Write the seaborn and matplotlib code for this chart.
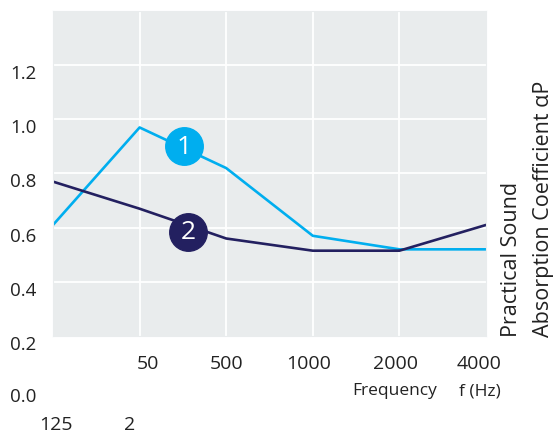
import pandas as pd
import seaborn as sns
import matplotlib.pyplot as plt
from matplotlib.transforms import ScaledTranslation

# Datos
frecuencias = ["125", "250", "500", "1000", "2000", "4000"]
serie_1 = [0.61, 0.97, 0.82, 0.57, 0.52, 0.52]
serie_2 = [0.77, 0.67, 0.56, 0.515, 0.515, 0.61]
etiquetas_x = ["", "50", "500", "1000", "2000", "4000"]
desplaz_x = [0, 8, 0, -4, -4, -7]  # px, como en el original
etiquetas_y = ["0.2", "0.4", "0.6", "0.8", "1.0", "1.2"]
valores_y = [0.2, 0.4, 0.6, 0.8, 1.0, 1.2]
marcas = ["1", "2"]
marcas_x = [1.51, 1.56]
marcas_y = [0.90, 0.585]

azul = "#00AEEF"
marino = "#232060"
fondo = "#E9ECED"
texto = "#222222"

df = pd.DataFrame({
    "pos": list(range(len(frecuencias))) * 2,
    "valor": serie_1 + serie_2,
    "serie": ["1"] * len(serie_1) + ["2"] * len(serie_2),
})

sns.set_style("whitegrid", {"axes.facecolor": fondo, "grid.color": "white",
                            "axes.edgecolor": fondo})
plt.rcParams["font.family"] = ["Open Sans", "DejaVu Sans"]

fig = plt.figure(figsize=(5.54, 4.35), dpi=100)
ax = fig.add_axes([53 / 554, 1 - 337 / 435, 433 / 554, 325 / 435])

sns.lineplot(data=df, x="pos", y="valor", hue="serie", palette=[azul, marino],
             linewidth=1.9, legend=False, ax=ax)

# Círculos numerados
for txt, mx, my, col in zip(marcas, marcas_x, marcas_y, [azul, marino]):
    ax.plot(mx, my, marker="o", markersize=27, color=col, zorder=5)
    ax.text(mx, my, txt, color="white", fontsize=19, ha="center", va="center",
            zorder=6)

ax.set_xlim(0, 5)
ax.set_ylim(0.2, 1.4)
ax.grid(True, color="white", linewidth=1.3)
ax.set_xticks(range(len(frecuencias)))
ax.set_xticklabels(etiquetas_x, fontsize=14, color=texto)
ax.set_yticks(valores_y)
ax.set_yticklabels(etiquetas_y, fontsize=13.5, color=texto)
ax.tick_params(axis="both", length=0)
ax.tick_params(axis="y", pad=12)
ax.tick_params(axis="x", pad=13)
for lab in ax.get_yticklabels():
    lab.set_transform(lab.get_transform() + ScaledTranslation(0, -0.06, fig.dpi_scale_trans))
for lab, dx in zip(ax.get_xticklabels(), desplaz_x):
    lab.set_transform(lab.get_transform() + ScaledTranslation(dx / 100, 0, fig.dpi_scale_trans))

# Sin líneas de rejilla en los bordes
ax.xaxis.get_gridlines()[0].set_visible(False)
ax.xaxis.get_gridlines()[-1].set_visible(False)
ax.yaxis.get_gridlines()[0].set_visible(False)
ax.set_xlabel("")
ax.set_ylabel("")

# Textos sueltos bajo el eje
ax.annotate("0.0", xy=(0, 0.0), xycoords=("axes fraction", "data"), xytext=(-12, -4),
            textcoords="offset points", ha="right", va="center", fontsize=13.5,
            color=texto, annotation_clip=False)
ax.annotate("125", xy=(0.035, 0), xycoords=("data", "axes fraction"), xytext=(0, -63),
            textcoords="offset points", ha="center", va="center", fontsize=14,
            color=texto, annotation_clip=False)
ax.annotate("2", xy=(0.88, 0), xycoords=("data", "axes fraction"), xytext=(0, -63),
            textcoords="offset points", ha="center", va="center", fontsize=14,
            color=texto, annotation_clip=False)
ax.annotate("Frequency", xy=(3.95, 0), xycoords=("data", "axes fraction"), xytext=(0, -39),
            textcoords="offset points", ha="center", va="center", fontsize=12.5,
            color=texto, annotation_clip=False)
ax.annotate("f (Hz)", xy=(4.93, 0), xycoords=("data", "axes fraction"), xytext=(0, -39),
            textcoords="offset points", ha="center", va="center", fontsize=12.5,
            color=texto, annotation_clip=False)

# Título del eje a la derecha
ax.text(1.058, 0, "Practical Sound", transform=ax.transAxes, rotation=90,
        ha="center", va="bottom", fontsize=15.5, color=texto)
ax.text(1.132, 0, "Absorption Coefficient αP", transform=ax.transAxes, rotation=90,
        ha="center", va="bottom", fontsize=15.5, color=texto)

plt.savefig("out.png", dpi=100)
